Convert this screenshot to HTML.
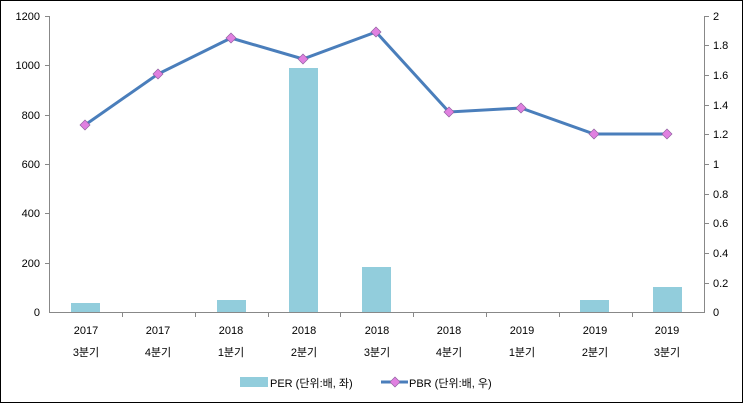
<!DOCTYPE html>
<html><head><meta charset="utf-8"><style>
body{margin:0;background:#fff}
svg{display:block;font-family:"Liberation Sans","Noto Sans CJK KR",sans-serif;font-size:11px}
</style></head><body>
<svg width="743" height="403" viewBox="0 0 743 403">
<rect x="0.5" y="0.5" width="742" height="402" fill="#fff" stroke="#000"/>
<g stroke="#888" stroke-width="1">
<line x1="49.5" y1="16" x2="49.5" y2="312"/>
<line x1="704.5" y1="16" x2="704.5" y2="312"/>
<line x1="49" y1="312.5" x2="705" y2="312.5"/>
</g>
<g stroke="#888">
<line x1="45" x2="49" y1="16.5" y2="16.5"/><line x1="45" x2="49" y1="65.5" y2="65.5"/><line x1="45" x2="49" y1="115.5" y2="115.5"/><line x1="45" x2="49" y1="164.5" y2="164.5"/><line x1="45" x2="49" y1="213.5" y2="213.5"/><line x1="45" x2="49" y1="263.5" y2="263.5"/>
<line x1="705" x2="709" y1="16.5" y2="16.5"/><line x1="705" x2="709" y1="45.5" y2="45.5"/><line x1="705" x2="709" y1="75.5" y2="75.5"/><line x1="705" x2="709" y1="105.5" y2="105.5"/><line x1="705" x2="709" y1="134.5" y2="134.5"/><line x1="705" x2="709" y1="164.5" y2="164.5"/><line x1="705" x2="709" y1="194.5" y2="194.5"/><line x1="705" x2="709" y1="223.5" y2="223.5"/><line x1="705" x2="709" y1="253.5" y2="253.5"/><line x1="705" x2="709" y1="283.5" y2="283.5"/>
<line y1="312" y2="317" x1="122.5" x2="122.5"/><line y1="312" y2="317" x1="195.5" x2="195.5"/><line y1="312" y2="317" x1="268.5" x2="268.5"/><line y1="312" y2="317" x1="340.5" x2="340.5"/><line y1="312" y2="317" x1="413.5" x2="413.5"/><line y1="312" y2="317" x1="486.5" x2="486.5"/><line y1="312" y2="317" x1="559.5" x2="559.5"/><line y1="312" y2="317" x1="632.5" x2="632.5"/>
</g>
<g text-anchor="end" fill="#000">
<text x="40" y="20">1200</text><text x="40" y="69">1000</text><text x="40" y="119">800</text><text x="40" y="168">600</text><text x="40" y="217">400</text><text x="40" y="267">200</text><text x="40" y="316">0</text>
</g>
<g fill="#000">
<text x="713" y="20">2</text><text x="713" y="49">1.8</text><text x="713" y="79">1.6</text><text x="713" y="109">1.4</text><text x="713" y="138">1.2</text><text x="713" y="168">1</text><text x="713" y="198">0.8</text><text x="713" y="227">0.6</text><text x="713" y="257">0.4</text><text x="713" y="287">0.2</text><text x="713" y="316">0</text>
</g>
<g fill="#92cddc">
<rect x="71" y="303" width="29" height="9"/>
<rect x="217" y="300" width="29" height="12"/>
<rect x="289" y="68" width="29" height="244"/>
<rect x="362" y="267" width="29" height="45"/>
<rect x="580" y="300" width="29" height="12"/>
<rect x="653" y="287" width="29" height="25"/>
</g>
<polyline fill="none" stroke="#4a7ebb" stroke-width="3" points="85,125 158,74 231,38 303,59 376,32 449,112 521,108 594,134 667,134"/>
<g fill="#e080e0" stroke="#9060a0" stroke-width="0.7">
<path d="M85,120l5,5l-5,5l-5,-5z"/><path d="M158,69l5,5l-5,5l-5,-5z"/><path d="M231,33l5,5l-5,5l-5,-5z"/><path d="M303,54l5,5l-5,5l-5,-5z"/><path d="M376,27l5,5l-5,5l-5,-5z"/><path d="M449,107l5,5l-5,5l-5,-5z"/><path d="M521,103l5,5l-5,5l-5,-5z"/><path d="M594,129l5,5l-5,5l-5,-5z"/><path d="M667,129l5,5l-5,5l-5,-5z"/>
</g>
<g text-anchor="middle" fill="#000">
<text x="86" y="334">2017</text><text x="86" y="356">3분기</text>
<text x="158" y="334">2017</text><text x="158" y="356">4분기</text>
<text x="231" y="334">2018</text><text x="231" y="356">1분기</text>
<text x="304" y="334">2018</text><text x="304" y="356">2분기</text>
<text x="377" y="334">2018</text><text x="377" y="356">3분기</text>
<text x="449" y="334">2018</text><text x="449" y="356">4분기</text>
<text x="522" y="334">2019</text><text x="522" y="356">1분기</text>
<text x="595" y="334">2019</text><text x="595" y="356">2분기</text>
<text x="667" y="334">2019</text><text x="667" y="356">3분기</text>
</g>
<rect x="240" y="377" width="28" height="10" fill="#92cddc"/>
<text x="270" y="387" fill="#000">PER (단위:배, 좌)</text>
<line x1="381" y1="382" x2="408" y2="382" stroke="#4a7ebb" stroke-width="3"/>
<path d="M395,377l5,5l-5,5l-5,-5z" fill="#e080e0" stroke="#9060a0" stroke-width="0.7"/>
<text x="409" y="387" fill="#000">PBR (단위:배, 우)</text>
</svg>
</body></html>
